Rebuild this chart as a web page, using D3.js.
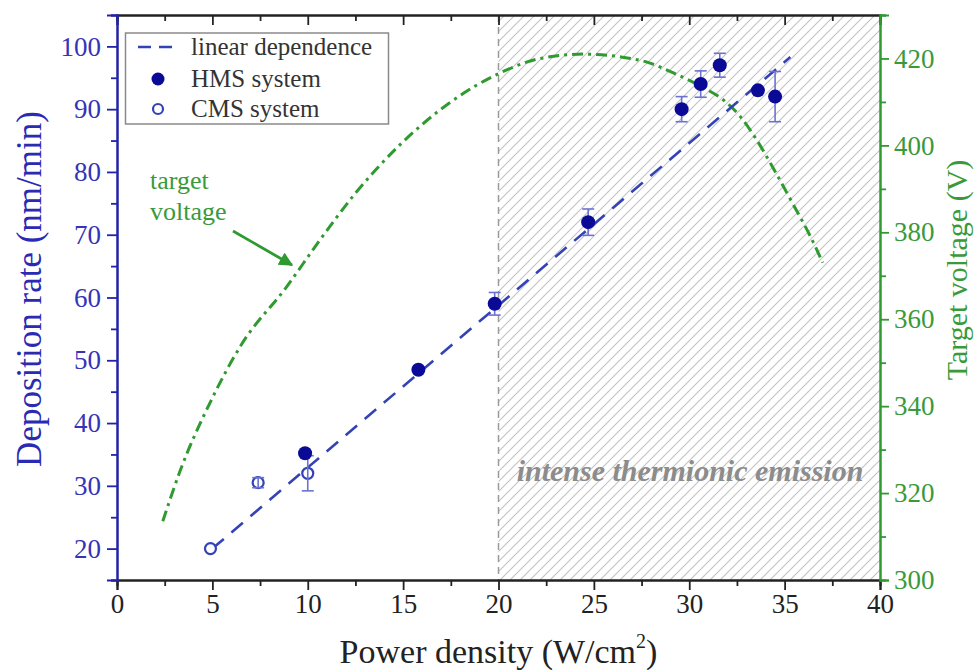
<!DOCTYPE html>
<html><head><meta charset="utf-8">
<script src="https://cdn.jsdelivr.net/npm/d3@7"></script>
<style>body{margin:0;background:#fff}svg{display:block}</style>
</head><body>
<svg id="c" width="980" height="670"></svg>
<script>
// ---- data ----
const xTicks = [0,5,10,15,20,25,30,35,40];
const xMinor = [2.5,7.5,12.5,17.5,22.5,27.5,32.5,37.5];
const yLTicks = [20,30,40,50,60,70,80,90,100];
const yLMinor = [15,25,35,45,55,65,75,85,95,105];
const yRTicks = [300,320,340,360,380,400,420];
const yRMinor = [310,330,350,370,390,410,430];

const hmsX   = [9.86, 15.8, 19.8, 24.7, 29.6, 30.6, 31.6, 33.6, 34.5];
const hmsY   = [35.2, 48.5, 59.0, 72.0, 90.0, 94.0, 97.0, 93.0, 92.0];
const hmsErr = [0, 0, 1.8, 2.1, 2.0, 2.1, 1.9, 0, 4.0];

const cmsX   = [4.9, 7.4, 10.0];
const cmsY   = [20.0, 30.5, 32.0];
const cmsErr = [0, 0.8, 2.8];

const linX = [5.0, 35.3];
const linY = [20.0, 98.3];

const voltX = [2.4, 3.3, 4.9, 6.5, 8.9, 10.6, 12.5, 14.8, 17.5, 20, 22.2, 24.5, 26.5, 27.9, 29.2, 30.7, 31.8, 32.7, 33.5, 34.5, 35.5, 36.3, 37.0];
const voltY = [313.5, 325, 341, 354, 367.5, 378, 389, 400, 410, 416.5, 420, 421, 420.3, 419, 416.6, 413.4, 410.4, 406.5, 401.5, 394, 386, 379.5, 373];

const hatchRange = [20, 40];

// ---- layout ----
const L = 117, R = 880, T = 15, B = 580;
const BLUE = "#2323a8", DBLUE = "#0a0a96", LBLUE = "#3343b5", EBLUE = "#6b72d2";
const GREEN = "#2f9a2f";
const FONT = "'Liberation Serif','Times New Roman',serif";

const svg = d3.select("#c");
const x = d3.scaleLinear([0,40],[L,R]);
const yL = d3.scaleLinear([15,105],[B,T]);
const yR = d3.scaleLinear([300,430],[B,T]);

// hatch pattern
const defs = svg.append("defs");
const pat = defs.append("pattern").attr("id","hatch").attr("patternUnits","userSpaceOnUse")
  .attr("width",10).attr("height",10);
pat.append("path").attr("d","M0,10 L10,0 M-2,2 L2,-2 M8,12 L12,8")
  .attr("stroke","#c2c2c2").attr("stroke-width",1.1);
defs.append("marker").attr("id","arr").attr("viewBox","0 0 10 10").attr("refX",9).attr("refY",5)
  .attr("markerWidth",5).attr("markerHeight",5).attr("orient","auto")
  .append("path").attr("d","M0,0 L10,5 L0,10 Z").attr("fill",GREEN);

svg.append("rect").attr("x",x(hatchRange[0])).attr("y",T)
  .attr("width",x(hatchRange[1])-x(hatchRange[0])).attr("height",B-T)
  .attr("fill","url(#hatch)");
svg.append("line").attr("x1",x(hatchRange[0])).attr("x2",x(hatchRange[0]))
  .attr("y1",T).attr("y2",B).attr("stroke","#9a9a9a").attr("stroke-width",1.5)
  .attr("stroke-dasharray","7,5");

svg.append("text").attr("x",690).attr("y",481)
  .attr("text-anchor","middle").attr("font-family",FONT).attr("font-size",30)
  .attr("font-style","italic").attr("font-weight","bold").attr("fill","#8c8c8c")
  .text("intense thermionic emission");

// voltage curve
const vline = d3.line().x(d=>x(d[0])).y(d=>yR(d[1])).curve(d3.curveMonotoneX);
svg.append("path").attr("d",vline(voltX.map((v,i)=>[v,voltY[i]])))
  .attr("fill","none").attr("stroke",GREEN).attr("stroke-width",3)
  .attr("stroke-dasharray","11,5,3,5");

// linear dependence
svg.append("path").attr("d",d3.line().x(d=>x(d[0])).y(d=>yL(d[1]))(linX.map((v,i)=>[v,linY[i]])))
  .attr("fill","none").attr("stroke",LBLUE).attr("stroke-width",2.6)
  .attr("stroke-dasharray","15,10");

// error bars
function errBars(xs, ys, es){
  const g = svg.append("g").attr("stroke",EBLUE).attr("stroke-width",1.6);
  xs.forEach((xv,i)=>{
    if(!es[i]) return;
    const cx = x(xv), y1 = yL(ys[i]-es[i]), y2 = yL(ys[i]+es[i]);
    g.append("line").attr("x1",cx).attr("x2",cx).attr("y1",y1).attr("y2",y2);
    g.append("line").attr("x1",cx-6).attr("x2",cx+6).attr("y1",y1).attr("y2",y1);
    g.append("line").attr("x1",cx-6).attr("x2",cx+6).attr("y1",y2).attr("y2",y2);
  });
}
// CMS
svg.append("g").selectAll("circle").data(cmsX).join("circle")
  .attr("cx",d=>x(d)).attr("cy",(d,i)=>yL(cmsY[i])).attr("r",5.5)
  .attr("fill","#fff").attr("stroke",LBLUE).attr("stroke-width",2.2);
errBars(cmsX, cmsY, cmsErr);
// HMS
errBars(hmsX, hmsY, hmsErr);
svg.append("g").selectAll("circle").data(hmsX).join("circle")
  .attr("cx",d=>x(d)).attr("cy",(d,i)=>yL(hmsY[i])).attr("r",7)
  .attr("fill",DBLUE);

// annotation
const ann = svg.append("text").attr("font-family",FONT).attr("font-size",26).attr("fill","#3a9a3a");
ann.append("tspan").attr("x",150).attr("y",189).text("target");
ann.append("tspan").attr("x",150).attr("y",220).text("voltage");
svg.append("line").attr("x1",233).attr("y1",231).attr("x2",292).attr("y2",265)
  .attr("stroke",GREEN).attr("stroke-width",2.8).attr("marker-end","url(#arr)");

// legend
const lg = svg.append("g");
lg.append("rect").attr("x",125.5).attr("y",33).attr("width",263).attr("height",91)
  .attr("fill","#fff").attr("stroke","#8a8a8a").attr("stroke-width",1.5);
lg.append("line").attr("x1",138).attr("x2",173).attr("y1",47).attr("y2",47)
  .attr("stroke",LBLUE).attr("stroke-width",2.6).attr("stroke-dasharray","13,8");
lg.append("circle").attr("cx",158).attr("cy",79).attr("r",6.5).attr("fill",DBLUE);
lg.append("circle").attr("cx",158).attr("cy",109).attr("r",5).attr("fill","#fff")
  .attr("stroke",LBLUE).attr("stroke-width",2.2);
[["linear dependence",55],["HMS system",87],["CMS system",117]].forEach(([t,yy])=>{
  lg.append("text").attr("x",191).attr("y",yy).attr("font-family",FONT)
    .attr("font-size",25).attr("fill","#333").text(t);
});

// axes
function styleAxis(g, color, fs){
  g.select(".domain").attr("stroke",color).attr("stroke-width",2);
  g.selectAll(".tick line").attr("stroke",color).attr("stroke-width",1.8);
  g.selectAll(".tick text").attr("fill",color).attr("font-family",FONT).attr("font-size",fs);
}
// top
let g = svg.append("g").attr("transform",`translate(0,${T})`)
  .call(d3.axisTop(x).tickValues(xTicks).tickSize(-10).tickFormat(""));
styleAxis(g,"#222",0);
g = svg.append("g").attr("transform",`translate(0,${T})`)
  .call(d3.axisTop(x).tickValues(xMinor).tickSize(-6).tickFormat(""));
styleAxis(g,"#222",0);
// bottom
g = svg.append("g").attr("transform",`translate(0,${B})`)
  .call(d3.axisBottom(x).tickValues(xMinor).tickSize(6).tickFormat(""));
styleAxis(g,"#222",0);
g = svg.append("g").attr("transform",`translate(0,${B})`)
  .call(d3.axisBottom(x).tickValues(xTicks).tickSize(10).tickPadding(4).tickFormat(d3.format("d")));
styleAxis(g,"#222",27);
// left
g = svg.append("g").attr("transform",`translate(${L},0)`)
  .call(d3.axisLeft(yL).tickValues(yLMinor).tickSize(6).tickFormat(""));
styleAxis(g,BLUE,0);
g = svg.append("g").attr("transform",`translate(${L},0)`)
  .call(d3.axisLeft(yL).tickValues(yLTicks).tickSize(10).tickPadding(6).tickFormat(d3.format("d")));
styleAxis(g,BLUE,27);
g.selectAll(".tick text").attr("fill","#3434b8");
// right
g = svg.append("g").attr("transform",`translate(${R},0)`)
  .call(d3.axisRight(yR).tickValues(yRMinor).tickSize(6).tickFormat(""));
styleAxis(g,GREEN,0);
g = svg.append("g").attr("transform",`translate(${R},0)`)
  .call(d3.axisRight(yR).tickValues(yRTicks).tickSize(9).tickPadding(5).tickFormat(d3.format("d")));
styleAxis(g,GREEN,27);
g.selectAll(".tick text").attr("fill","#3a9a3a");

// titles
const xt = svg.append("text").attr("x",(L+R)/2).attr("y",663).attr("text-anchor","middle")
  .attr("font-family",FONT).attr("font-size",34).attr("fill","#222");
xt.append("tspan").text("Power density (W/cm");
xt.append("tspan").attr("font-size",20).attr("dy",-15).text("2");
xt.append("tspan").attr("dy",15).text(")");

svg.append("text").attr("transform","translate(41,289) rotate(-90)").attr("text-anchor","middle")
  .attr("font-family",FONT).attr("font-size",35).attr("fill","#2a2ab2").text("Deposition rate (nm/min)");
svg.append("text").attr("transform","translate(967,270) rotate(-90)").attr("text-anchor","middle")
  .attr("font-family",FONT).attr("font-size",30).attr("fill","#3a9a3a").text("Target voltage (V)");
</script>
</body></html>
